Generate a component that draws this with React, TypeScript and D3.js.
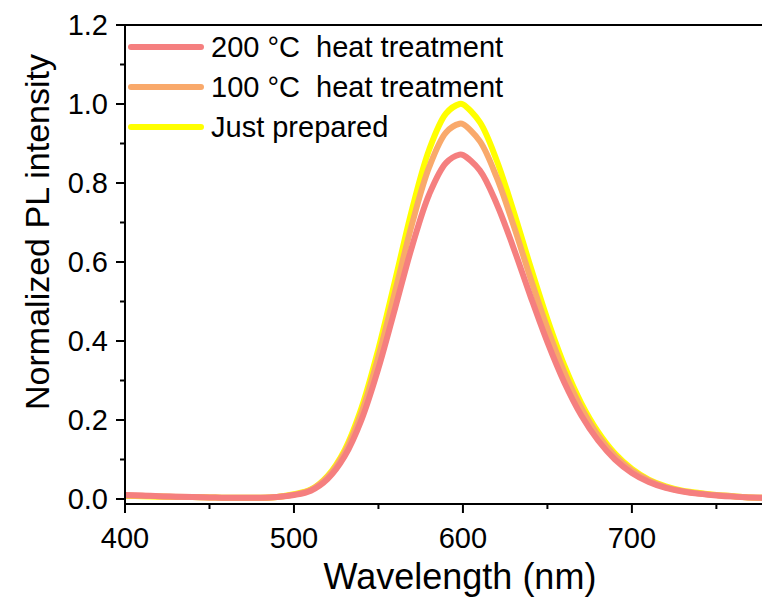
import React from "react";
import * as d3 from "d3";

const wavelengths = [400, 410, 420, 430, 440, 450, 460, 470, 480, 490, 500, 510, 520, 530, 540, 550, 560, 570, 580, 590, 598, 600, 610, 620, 630, 640, 650, 660, 670, 680, 690, 700, 710, 720, 730, 740, 750, 760, 770, 777];

const heat200 = [0.010, 0.009, 0.007, 0.006, 0.005, 0.004, 0.003, 0.003, 0.003, 0.005, 0.010, 0.021, 0.051, 0.108, 0.201, 0.331, 0.485, 0.641, 0.771, 0.851, 0.872, 0.871, 0.832, 0.747, 0.635, 0.513, 0.397, 0.295, 0.212, 0.148, 0.100, 0.066, 0.043, 0.028, 0.019, 0.013, 0.009, 0.006, 0.004, 0.003];

const heat100 = [0.009, 0.008, 0.007, 0.006, 0.005, 0.004, 0.003, 0.003, 0.003, 0.005, 0.011, 0.023, 0.056, 0.118, 0.219, 0.361, 0.528, 0.698, 0.840, 0.928, 0.950, 0.949, 0.906, 0.814, 0.692, 0.559, 0.432, 0.321, 0.231, 0.161, 0.109, 0.072, 0.047, 0.030, 0.020, 0.014, 0.010, 0.007, 0.004, 0.003];

const justPrepared = [0.008, 0.007, 0.006, 0.005, 0.005, 0.004, 0.003, 0.003, 0.003, 0.005, 0.012, 0.024, 0.059, 0.124, 0.231, 0.380, 0.556, 0.735, 0.884, 0.976, 1.000, 0.999, 0.954, 0.857, 0.728, 0.588, 0.455, 0.338, 0.243, 0.170, 0.115, 0.076, 0.049, 0.032, 0.021, 0.015, 0.010, 0.007, 0.004, 0.003];

const seriesNames = ["200 \u00B0C  heat treatment", "100 \u00B0C  heat treatment", "Just prepared"];
const seriesColors = ["#F57F7F", "#F9A96B", "#FFFF00"];

const xTicks = [400, 500, 600, 700];
const xMinor = [450, 550, 650, 750];
const yTicks = [0, 0.2, 0.4, 0.6, 0.8, 1.0, 1.2];
const yMinor = [0.1, 0.3, 0.5, 0.7, 0.9, 1.1];

const W = 762, H = 597;
const left = 125, right = 762, top = 25, bottom = 504;
const font = "Arial, 'Liberation Sans', sans-serif";

export default function App() {
  const x = d3.scaleLinear().domain([400, 777]).range([left, right]);
  const y = d3.scaleLinear().domain([-0.01266, 1.2]).range([bottom, top]);
  const seriesData = [heat200, heat100, justPrepared];
  const line = d3
    .line<number>()
    .x((_, i) => x(wavelengths[i]))
    .y((v) => y(v))
    .curve(d3.curveCatmullRom.alpha(0.5));
  const drawOrder = [2, 1, 0];

  return (
    <svg width={W} height={H} style={{ position: "absolute", left: 0, top: 0, background: "#fff" }} fontFamily={font}>
      <rect x={0} y={0} width={W} height={H} fill="#fff" />
      <defs>
        <clipPath id="plotclip">
          <rect x={left} y={top} width={right - left} height={bottom - top} />
        </clipPath>
      </defs>
      <g clipPath="url(#plotclip)">
        {drawOrder.map((k) => (
          <path key={k} d={line(seriesData[k]) || ""} fill="none" stroke={seriesColors[k]} strokeWidth={6} strokeLinejoin="round" strokeLinecap="round" />
        ))}
      </g>
      <line x1={left} y1={top} x2={right} y2={top} stroke="#000" strokeWidth={2} />
      <line x1={left} y1={bottom} x2={right} y2={bottom} stroke="#000" strokeWidth={2} />
      <line x1={left} y1={top - 1} x2={left} y2={bottom + 1} stroke="#000" strokeWidth={2} />
      {xTicks.map((t) => (
        <g key={"xt" + t}>
          <line x1={x(t)} y1={bottom} x2={x(t)} y2={bottom + 9} stroke="#000" strokeWidth={2} />
          <text x={x(t)} y={548} fontSize={29} textAnchor="middle" fill="#000">{t}</text>
        </g>
      ))}
      {xMinor.map((t) => (
        <line key={"xm" + t} x1={x(t)} y1={bottom} x2={x(t)} y2={bottom + 5} stroke="#000" strokeWidth={2} />
      ))}
      {yTicks.map((t) => (
        <g key={"yt" + t}>
          <line x1={left} y1={y(t)} x2={left - 9} y2={y(t)} stroke="#000" strokeWidth={2} />
          <text x={108} y={y(t) + 10} fontSize={29} textAnchor="end" fill="#000">{t.toFixed(1)}</text>
        </g>
      ))}
      {yMinor.map((t) => (
        <line key={"ym" + t} x1={left} y1={y(t)} x2={left - 5} y2={y(t)} stroke="#000" strokeWidth={2} />
      ))}
      <text x={460} y={589} fontSize={36} textAnchor="middle" fill="#000">Wavelength (nm)</text>
      <text transform="translate(49,232) rotate(-90)" fontSize={34} textAnchor="middle" fill="#000">Normalized PL intensity</text>
      {seriesNames.map((name, i) => (
        <g key={name}>
          <line x1={131} x2={201} y1={47 + i * 40} y2={47 + i * 40} stroke={seriesColors[i]} strokeWidth={6} strokeLinecap="round" />
          <text x={211} y={57 + i * 40} fontSize={29} fill="#000" style={{ whiteSpace: "pre" }}>{name}</text>
        </g>
      ))}
    </svg>
  );
}
